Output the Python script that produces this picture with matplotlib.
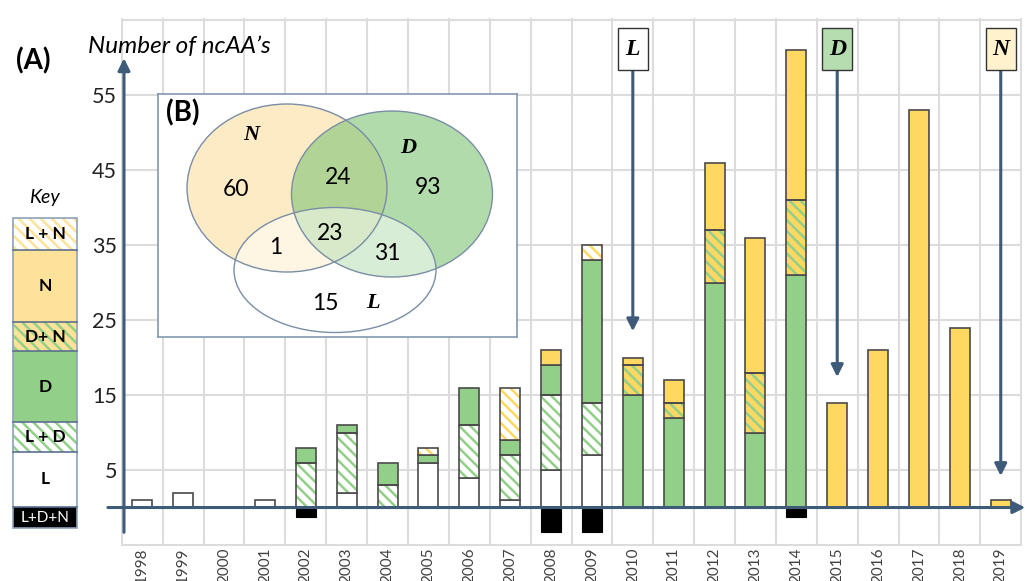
import numpy as np
import matplotlib.pyplot as plt
from matplotlib.patches import Rectangle, Ellipse

plt.rcParams['font.family'] = ['Lato', 'DejaVu Sans']
plt.rcParams['hatch.linewidth'] = 1.8

# ncAA counts per year, split by which set they belong to
years = [str(y) for y in range(1998, 2020)]
l_only = [1, 2, 0, 1, 0, 2, 0, 6, 4, 1, 5, 7, 0, 0, 0, 0, 0, 0, 0, 0, 0, 0]
l_d = [0, 0, 0, 0, 6, 8, 3, 0, 7, 6, 10, 7, 0, 0, 0, 0, 0, 0, 0, 0, 0, 0]
d_only = [0, 0, 0, 0, 2, 1, 3, 1, 5, 2, 4, 19, 15, 12, 30, 10, 31, 0, 0, 0, 0, 0]
d_n = [0, 0, 0, 0, 0, 0, 0, 0, 0, 0, 0, 0, 4, 2, 7, 8, 10, 0, 0, 0, 0, 0]
n_only = [0, 0, 0, 0, 0, 0, 0, 0, 0, 0, 2, 0, 1, 3, 9, 18, 20, 14, 21, 53, 24, 1]
l_n = [0, 0, 0, 0, 0, 0, 0, 1, 0, 7, 0, 2, 0, 0, 0, 0, 0, 0, 0, 0, 0, 0]
l_d_n = [0, 0, 0, 0, 1, 0, 0, 0, 0, 0, 3, 3, 0, 0, 0, 0, 1, 0, 0, 0, 0, 0]

# approval markers: set name, year index, arrow tip value
markers = [('L', 12, 23.5), ('D', 17, 17.4), ('N', 21, 4.2)]

# Venn diagram region counts
venn_counts = {'N': 60, 'D': 93, 'L': 15, 'ND': 24, 'NL': 1, 'DL': 31, 'NDL': 23}

key_labels = ['L + N', 'N', 'D+ N', 'D', 'L + D', 'L', 'L+D+N']

GREEN = '#92cf88'
YELLOW = '#ffd862'
KEY_YELLOW = '#ffe29a'
EDGE = '#4a4a4a'
NAVY = '#3e5b7a'
GRID = '#dcdcdc'
HATCH = '\\\\\\'

fig = plt.figure(figsize=(10.25, 5.81), dpi=100)
W, H = 1025, 581

ax = fig.add_axes([121 / W, 1 - 546 / H, 901 / W, 528 / H])
ax.set_xlim(-0.52, 21.52)
ax.set_ylim(-5.13, 65.27)
for s in ax.spines.values():
    s.set_visible(False)

x = np.arange(len(years))
for g in np.arange(-0.5, 22, 1.0):
    ax.axvline(g, color=GRID, lw=1.5, zorder=0)
for g in range(-5, 70, 10):
    ax.axhline(g, color=GRID, lw=1.5, zorder=0)

ax.set_xticks(x)
ax.set_xticklabels(years, rotation=90, fontsize=11, color='#404040')
ax.set_yticks(range(5, 60, 10))
ax.set_yticklabels([str(v) for v in range(5, 60, 10)], fontsize=15.5, color='#222222')
ax.tick_params(length=0)
ax.tick_params(axis='x', pad=1)
ax.tick_params(axis='y', pad=3)

bw = 0.49
segments = [
    (l_only, 'white', None),
    (l_d, 'white', GREEN),
    (d_only, GREEN, None),
    (d_n, YELLOW, GREEN),
    (n_only, YELLOW, None),
    (l_n, 'white', YELLOW),
]
bottom = np.zeros(len(years))
for vals, face, hcol in segments:
    vals = np.array(vals, dtype=float)
    m = vals > 0
    if hcol:
        ax.bar(x[m], vals[m], bw, bottom=bottom[m], color=face, edgecolor=hcol,
               hatch=HATCH, lw=0, zorder=3)
        ax.bar(x[m], vals[m], bw, bottom=bottom[m], fill=False, edgecolor=EDGE,
               lw=1.2, zorder=4)
    else:
        ax.bar(x[m], vals[m], bw, bottom=bottom[m], color=face, edgecolor=EDGE,
               lw=1.2, zorder=3)
    bottom += vals

# shared by all three sets: hangs below the axis
ldn = np.array(l_d_n, dtype=float)
m = ldn > 0
ax.bar(x[m], -ldn[m], bw, bottom=-0.25, color='black', edgecolor='black', lw=0.8, zorder=3)

# axis arrows
arrow = dict(arrowstyle='-|>', color=NAVY, lw=2.2, mutation_scale=18, shrinkA=0, shrinkB=0)
ax.annotate('', xy=(-0.447, 59.9), xytext=(-0.447, -3.3), arrowprops=arrow,
            annotation_clip=False, zorder=6)
ax.annotate('', xy=(21.6, 0), xytext=(-0.84, 0), arrowprops=arrow,
            annotation_clip=False, zorder=6)

# approval markers with boxed labels
box_colors = {'L': 'white', 'D': '#b6ddb0', 'N': '#fff2cc'}
for name, idx, tip in markers:
    ax.annotate('', xy=(idx, tip), xytext=(idx, 58.3), arrowprops=arrow,
                annotation_clip=False, zorder=6)
    ax.add_patch(Rectangle((idx - 0.37, 58.3), 0.74, 5.6, facecolor=box_colors[name],
                           edgecolor='#333333', lw=1.0, zorder=7, clip_on=False))
    ax.text(idx, 61.1, name, ha='center', va='center', fontsize=17,
            family='Liberation Serif', style='italic', weight='bold', zorder=8)

# overlay in pixel coordinates for titles and key
ov = fig.add_axes([0, 0, 1, 1])
ov.set_xlim(0, W)
ov.set_ylim(H, 0)
ov.axis('off')
ov.text(88, 47, 'Number of ncAA\u2019s', fontsize=17.5, style='italic', va='center', ha='left')
ov.text(33, 61, '(A)', fontsize=20, weight='bold', va='center', ha='center')
ov.text(44, 197, 'Key', fontsize=14, style='italic', va='center', ha='center')

key_bounds = [218, 250, 322, 351, 422, 452, 507, 528]
key_style = [('white', KEY_YELLOW), (KEY_YELLOW, None), (KEY_YELLOW, GREEN), (GREEN, None),
             ('white', GREEN), ('white', None), ('black', None)]
for i, lab in enumerate(key_labels):
    y0, y1 = key_bounds[i], key_bounds[i + 1]
    face, hcol = key_style[i]
    if hcol:
        ov.add_patch(Rectangle((13, y0), 64, y1 - y0, facecolor=face, edgecolor=hcol,
                               hatch=HATCH, lw=0))
    else:
        ov.add_patch(Rectangle((13, y0), 64, y1 - y0, facecolor=face, lw=0))
    if i > 0:
        ov.plot([13, 77], [y0, y0], color='#5a7090', lw=1.2)
    if lab == 'L+D+N':
        ov.text(45, (y0 + y1) / 2, lab, color='white', fontsize=11, ha='center', va='center')
    else:
        ov.text(45, (y0 + y1) / 2, lab, fontsize=12.5, weight='bold', ha='center', va='center')
ov.add_patch(Rectangle((13, 218), 64, 310, fill=False, edgecolor='#8ea2b9', lw=1.2))

# inset Venn diagram
vx = fig.add_axes([158 / W, 1 - 337 / H, 359 / W, 243 / H])
vx.set_xlim(158, 517)
vx.set_ylim(337, 94)
vx.set_xticks([])
vx.set_yticks([])
for s in vx.spines.values():
    s.set_color('#8497b0')
    s.set_linewidth(1.2)
ring = '#7a8ea6'
vx.add_patch(Ellipse((287, 188), 200, 168, facecolor='#fdebc6', edgecolor='none'))
vx.add_patch(Ellipse((392, 194), 201, 166, facecolor='#80c376', alpha=0.6, edgecolor='none'))
vx.add_patch(Ellipse((335, 270), 202, 125, facecolor='white', alpha=0.5, edgecolor='none'))
for c, w_, h_ in [((287, 188), 200, 168), ((392, 194), 201, 166), ((335, 270), 202, 125)]:
    vx.add_patch(Ellipse(c, w_, h_, fill=False, edgecolor=ring, lw=1.0))

serif = dict(family='Liberation Serif', style='italic', weight='bold', fontsize=16,
             ha='center', va='center')
vx.text(251, 135, 'N', **serif)
vx.text(408, 148, 'D', **serif)
vx.text(373, 303, 'L', **serif)
num = dict(fontsize=16.5, ha='center', va='center')
vx.text(236, 190, str(venn_counts['N']), **num)
vx.text(338, 177, str(venn_counts['ND']), **num)
vx.text(428, 187, str(venn_counts['D']), **num)
vx.text(276, 248, str(venn_counts['NL']), **num)
vx.text(330, 233, str(venn_counts['NDL']), **num)
vx.text(387, 253, str(venn_counts['DL']), **num)
vx.text(325, 303, str(venn_counts['L']), **num)
vx.text(183, 113, '(B)', fontsize=20, weight='bold', ha='center', va='center')

fig.savefig('out.png', dpi=100)
